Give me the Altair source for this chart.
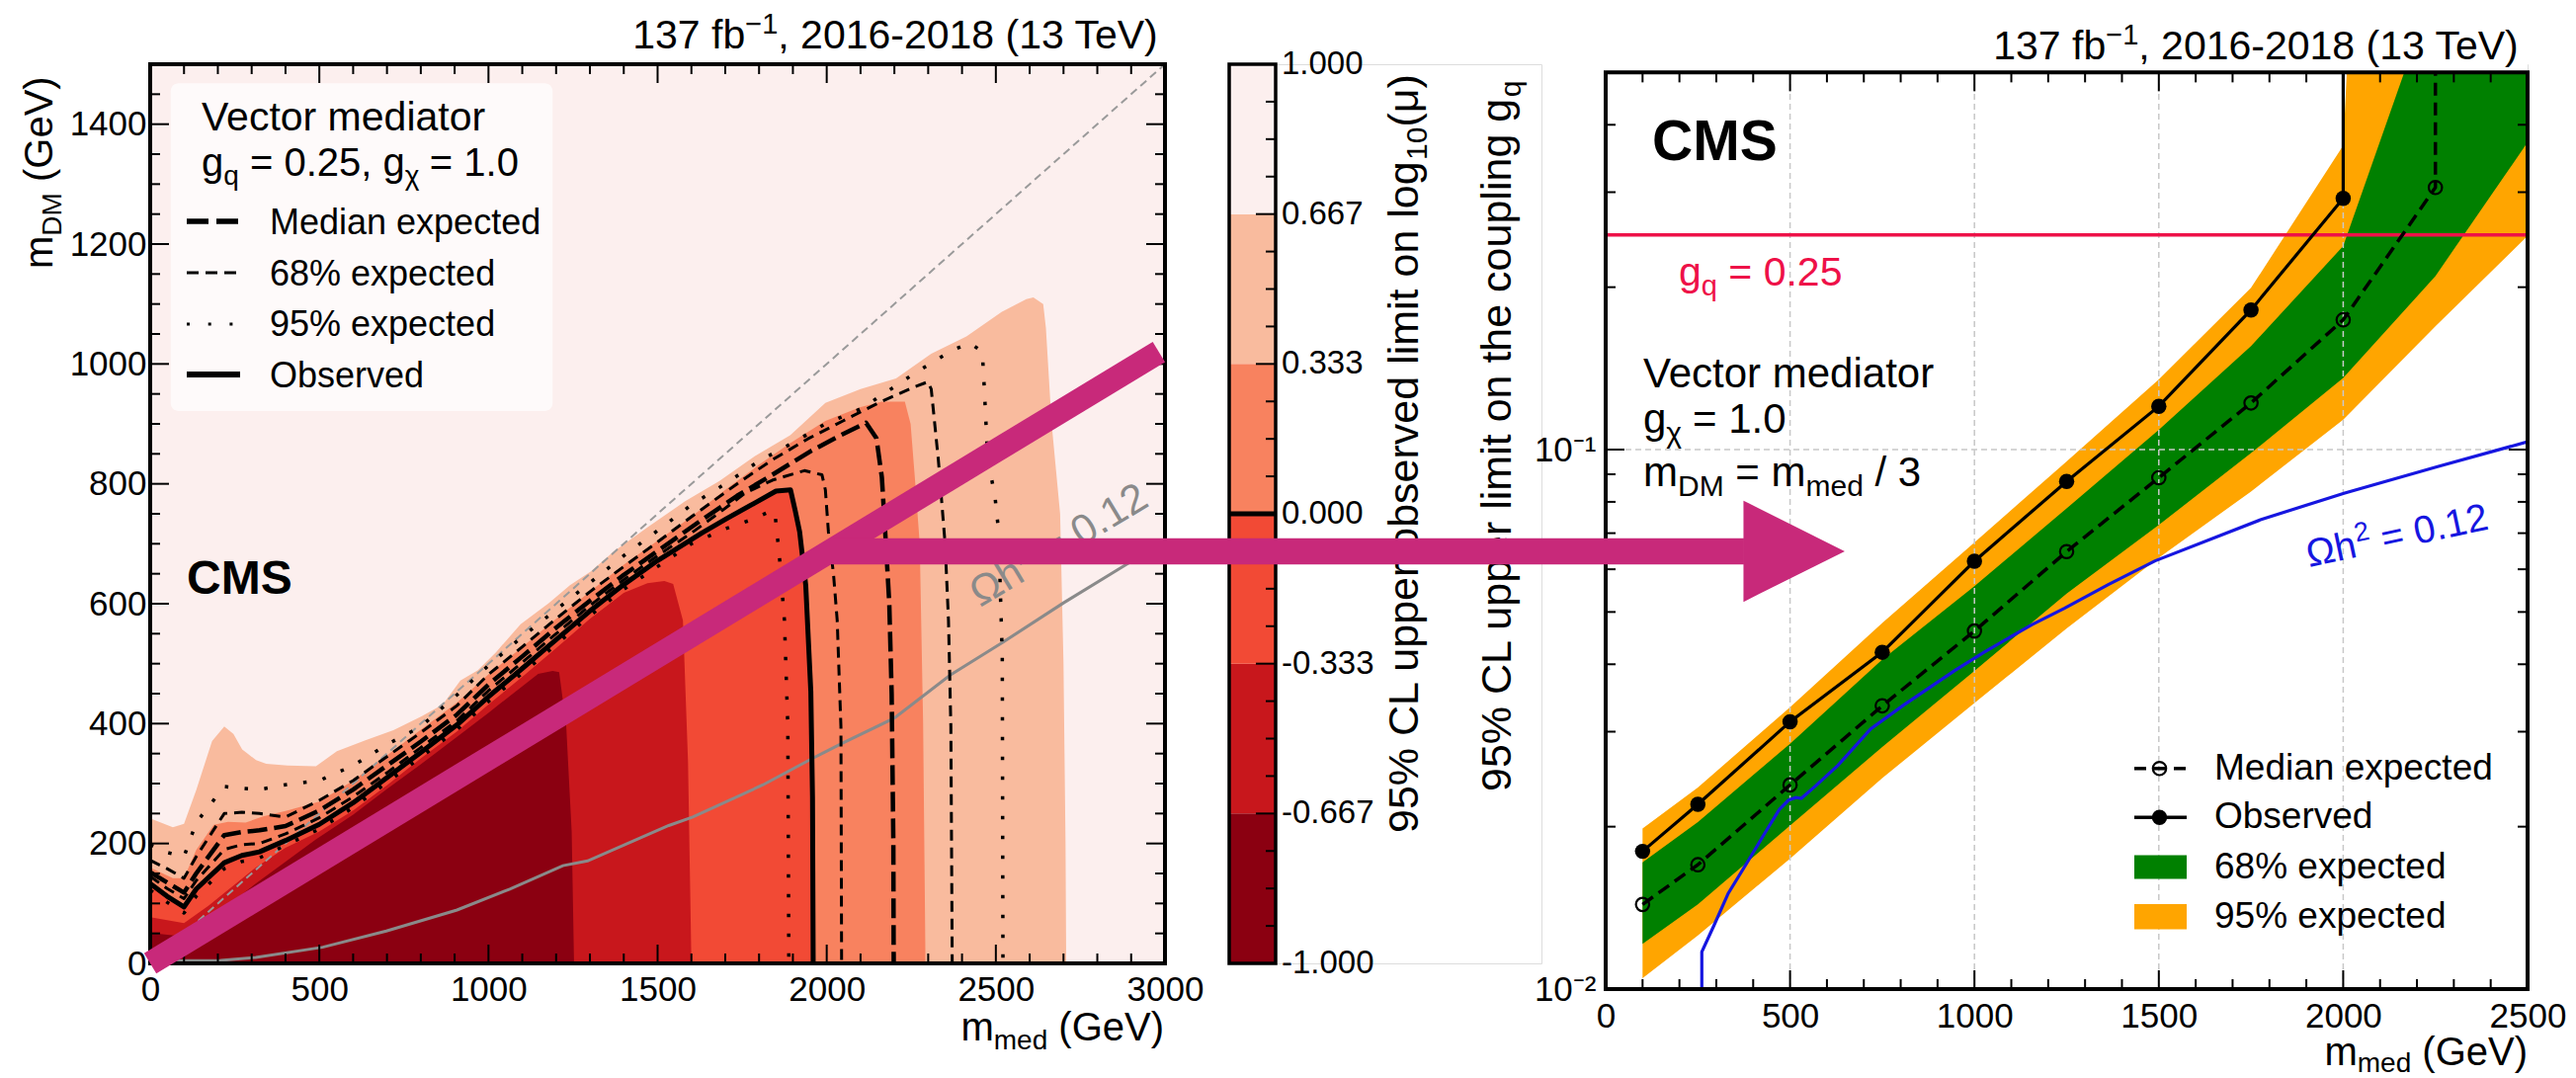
import math
import altair as alt
import pandas as pd

FONT = "Liberation Sans"
INK = "#000000"
MAGENTA = "#c8297a"
RELIC_GRAY = "#8a8a8a"
DIAG_GRAY = "#9a9a9a"
RED = "#ee1148"
BLUE = "#1616e0"
GREEN = "#008000"
ORANGE = "#ffa500"

# ----------------------------------------------------------------------
# Left panel: observed limit on log10(mu) in the (m_med, m_DM) plane, GeV
# ----------------------------------------------------------------------
# upper edge of each filled log10(mu) interval; every region is filled down to m_DM = 0
edge_m0667_mmed = [0, 50, 100, 172, 312, 490, 600, 698, 800, 907, 1000, 1063, 1147, 1190, 1209, 1230, 1246, 1253]
edge_m0667_mdm = [51, 48, 45, 72, 133, 207, 248, 290, 332, 378, 418, 446, 483, 488, 486, 395, 220, 0]

edge_m0333_mmed = [0, 50, 100, 172, 312, 400, 500, 600, 700, 800, 907, 1000, 1100, 1200, 1300, 1400, 1470,
                   1520, 1546, 1575, 1590, 1600]
edge_m0333_mdm = [77, 72, 67, 96, 160, 193, 220, 255, 297, 342, 387, 432, 478, 526, 575, 618, 634,
                  638, 633, 572, 336, 0]

edge_p0333_mmed = [0, 67, 100, 136, 188, 230, 282, 334, 406, 500, 600, 700, 800, 907, 1000, 1100, 1200, 1300,
                   1400, 1500, 1600, 1700, 1800, 1892, 1996, 2100, 2163, 2231, 2248, 2262, 2275, 2285, 2292]
edge_p0333_mdm = [160, 142, 142, 189, 231, 236, 235, 245, 255, 270, 305, 347, 390, 435, 482, 528, 575, 620,
                  665, 705, 745, 790, 832, 868, 905, 928, 937, 937, 900, 800, 700, 400, 0]

edge_p0667_mmed = [0, 67, 100, 136, 183, 219, 246, 272, 313, 343, 406, 490, 552, 636, 719, 802, 865, 917, 969,
                   1022, 1095, 1178, 1241, 1303, 1370, 1474, 1579, 1683, 1787, 1892, 1996, 2100, 2205, 2309,
                   2413, 2518, 2590, 2611, 2640, 2648, 2665, 2690, 2700, 2706, 2708]
edge_p0667_mdm = [242, 227, 233, 289, 371, 395, 383, 357, 339, 333, 330, 329, 354, 372, 389, 412, 432, 472, 489,
                  519, 566, 601, 631, 654, 687, 729, 770, 805, 846, 881, 935, 958, 976, 1017,
                  1046, 1087, 1108, 1111, 1100, 1060, 900, 750, 500, 200, 0]

# limit contours (mu = 1)
obs_mmed = [0, 50, 100, 136, 219, 271, 323, 400, 500, 600, 700, 800, 907, 1000, 1100, 1200, 1300, 1400, 1500,
            1631, 1704, 1787, 1850, 1893, 1907, 1920, 1938, 1953, 1958, 1960]
obs_mdm = [133, 112, 94, 124, 168, 180, 186, 205, 232, 268, 310, 352, 398, 445, 492, 540, 588, 632, 672,
           718, 742, 768, 788, 790, 755, 720, 631, 454, 277, 0]

med_mmed = [0, 50, 100, 136, 219, 271, 323, 400, 500, 600, 700, 800, 907, 1000, 1100, 1200, 1300, 1400, 1500,
            1631, 1735, 1839, 1954, 2038, 2116, 2147, 2163, 2175, 2185, 2192, 2197, 2198]
med_mdm = [152, 135, 118, 150, 214, 219, 222, 229, 255, 290, 330, 370, 415, 465, 512, 560, 605, 648, 688,
           740, 780, 815, 855, 880, 902, 876, 811, 700, 600, 450, 200, 0]

e68_inner_mmed = [0, 50, 100, 136, 219, 271, 323, 400, 500, 600, 700, 800, 907, 1000, 1100, 1200, 1300, 1400,
                  1500, 1600, 1683, 1760, 1839, 1934, 1986, 1996, 2005, 2020, 2031, 2042, 2044]
e68_inner_mdm = [145, 125, 108, 138, 190, 198, 200, 216, 243, 278, 318, 360, 405, 455, 502, 550, 597, 640,
                 680, 718, 752, 785, 806, 822, 815, 790, 720, 650, 572, 395, 0]

e68_outer_mmed = [0, 50, 100, 136, 219, 271, 323, 400, 500, 600, 700, 800, 907, 1000, 1100, 1200, 1300, 1400,
                  1500, 1600, 1735, 1839, 1944, 2048, 2153, 2260, 2299, 2309, 2330, 2350, 2360, 2367, 2371]
e68_outer_mdm = [172, 158, 142, 178, 250, 252, 250, 244, 272, 305, 345, 385, 430, 482, 528, 575, 620, 662,
                 703, 745, 800, 840, 875, 905, 935, 962, 970, 958, 840, 700, 572, 395, 0]

e95_inner_mmed = [0, 50, 100, 136, 219, 271, 323, 400, 500, 600, 700, 800, 907, 1000, 1100, 1200, 1300, 1400,
                  1500, 1600, 1700, 1787, 1839, 1848, 1860, 1875, 1885, 1888]
e95_inner_mdm = [122, 102, 84, 112, 158, 170, 176, 197, 224, 260, 302, 344, 390, 437, 484, 532, 580, 624,
                 662, 700, 725, 742, 756, 745, 680, 572, 395, 0]

e95_outer_mmed = [0, 50, 100, 136, 219, 271, 323, 400, 500, 600, 700, 800, 907, 1000, 1100, 1200, 1300, 1400,
                  1500, 1600, 1700, 1800, 1892, 1996, 2100, 2163, 2267, 2319, 2372, 2424, 2460, 2466, 2476,
                  2497, 2508, 2519, 2521]
e95_outer_mdm = [198, 185, 178, 235, 295, 292, 290, 298, 305, 330, 365, 395, 448, 497, 545, 590, 635, 680,
                 722, 765, 800, 838, 866, 900, 925, 948, 987, 1005, 1023, 1035, 1020, 958, 840,
                 781, 722, 513, 0]

# kinematic boundary m_DM = m_med / 2 and relic density curve
kin_mmed = [0, 3000]
kin_mdm = [0, 1500]
relic_l_mmed = [0, 208, 312, 510, 698, 907, 1063, 1220, 1293, 1428, 1533, 1604, 1812, 1958, 2042, 2199, 2365,
                2522, 2699, 2887, 3000]
relic_l_mdm = [4, 5, 10, 27, 54, 89, 124, 163, 171, 204, 230, 244, 298, 342, 366, 409, 481, 536, 601, 666, 705]

# highlighted scan line m_DM ~ m_med / 3
scan_mmed = [0, 2982]
scan_mdm = [0, 1020]

# ----------------------------------------------------------------------
# Colour bar levels
# ----------------------------------------------------------------------
level_edges = [-1.0, -2 / 3, -1 / 3, 0.0, 1 / 3, 2 / 3, 1.0]
level_labels = ["-1.000", "-0.667", "-0.333", "0.000", "0.333", "0.667", "1.000"]
level_colors = ["#8b0011", "#c8171c", "#f24a35", "#f8825f", "#f9bb9e", "#fcefee"]

# ----------------------------------------------------------------------
# Right panel: 95% CL upper limit on g_q along m_DM = m_med / 3
# ----------------------------------------------------------------------
mass_points = [100, 250, 500, 750, 1000, 1250, 1500, 1750, 2000, 2250, 2500]
obs_gq = [0.0180, 0.0220, 0.0313, 0.0421, 0.0621, 0.0873, 0.1203, 0.1815, 0.2923]
exp_gq = [0.01435, 0.0170, 0.0239, 0.0335, 0.0461, 0.0647, 0.0887, 0.1220, 0.1740, 0.306]
exp68_lo = [0.01213, 0.01435, 0.0201, 0.0281, 0.0389, 0.0541, 0.0725, 0.0985, 0.1358, 0.2097, 0.371]
exp68_hi = [0.01717, 0.0204, 0.0285, 0.0408, 0.0558, 0.0778, 0.1088, 0.1555, 0.2384, 0.73, 1000.0]
exp95_lo = [0.01047, 0.01257, 0.01745, 0.0246, 0.0339, 0.0466, 0.0630, 0.0836, 0.1136, 0.1693, 0.2488]
exp95_hi = [0.01985, 0.02365, 0.0333, 0.0477, 0.0673, 0.0951, 0.1349, 0.1994, 0.366, 1000.0, 1000.0]
OFF_SCALE = 1000.0  # limit not reached inside the scan range: the curve runs off the top

relic_r_mmed = [260.7, 260.7, 292.6, 332.3, 386.8, 431.4, 471.0, 496.0, 515.8, 530.5, 570.0, 629.7, 718.7,
                807.9, 946.6, 1026, 1155, 1244, 1363, 1490, 1775.5, 2002, 2256, 2500]
relic_r_gq = [0.0095, 0.01172, 0.01307, 0.01504, 0.0173, 0.01945, 0.02153, 0.0224, 0.02264, 0.02257, 0.02383,
              0.02598, 0.03035, 0.0336, 0.03894, 0.04212, 0.04734, 0.0508, 0.0562, 0.0622, 0.0741, 0.083,
              0.093, 0.1034]
gq_reference = 0.25

# arrow linking the scan line to the right panel (right-panel axis units)
arrow_bar_mmed = [-2098, 375]
arrow_head_mmed = 511
arrow_gq = 0.0648

# ----------------------------------------------------------------------
# Layout
# ----------------------------------------------------------------------
LW, LH = 1027, 910          # left plot area
CW = 316                    # colour-bar cell (bar + labels + title)
RW, RH = 933, 936           # right plot area (frame starts 9 px below the top)
GAP = 65
R_YMIN = 0.01
R_YTOP = 10 ** (-2 + RH / 546.0)
R_FRAME_TOP = RH * (1 - math.log10(0.5 / R_YMIN) / math.log10(R_YTOP / R_YMIN))

ADV = {" ": .278, "%": .889, "(": .333, ")": .333, ",": .278, "-": .333, ".": .278, "/": .278,
       "=": .584, "\u2212": .584, "C": .722, "D": .722, "G": .778, "L": .556, "M": .833, "O": .778,
       "S": .667, "T": .611, "V": .667, "b": .556, "c": .5, "f": .278, "i": .222, "l": .222, "m": .833,
       "r": .333, "s": .5, "t": .278, "v": .5, "x": .5, "\u03c7": .5, "\u03a9": .768, "\u03bc": .576}


def advance(text, size):
    return size * sum(ADV.get(ch, .556) for ch in text)


def compose(pieces, x, y, angle=0, color=INK, right=None):
    """Lay out (text, size, baseline shift) pieces one after another along a baseline.

    Leading blanks are turned into an offset, since rendered strings are trimmed."""
    if right is not None:
        x = right - sum(advance(t, s) for t, s, _ in pieces)
    th = math.radians(angle)
    ux, uy = math.cos(th), math.sin(th)
    vx, vy = -math.sin(th), math.cos(th)
    rows, run = [], 0.0
    for text, size, shift in pieces:
        lead = advance(text[:len(text) - len(text.lstrip(" "))], size)
        pos = run + lead
        rows.append(dict(t=text.strip(), x=x + pos * ux + shift * vx,
                         y=y + pos * uy + shift * vy, s=size, a=angle, c=color))
        run += advance(text, size)
    return rows


def text_layer(rows, **kw):
    return alt.Chart(pd.DataFrame(rows)).mark_text(
        font=FONT, align="left", baseline="alphabetic", **kw
    ).encode(
        x=alt.X("x:Q", scale=None, axis=None),
        y=alt.Y("y:Q", scale=None, axis=None),
        text="t:N",
        size=alt.Size("s:Q", scale=None),
        angle=alt.Angle("a:Q", scale=None),
        color=alt.Color("c:N", scale=None),
    )


ONE = pd.DataFrame({"k": [0]})


def px_rule(x1, x2, y1, y2, **kw):
    return alt.Chart(ONE).mark_rule(**kw).encode(
        x=alt.value(x1), x2=alt.value(x2), y=alt.value(y1), y2=alt.value(y2))


def title_pieces():
    return [("137 fb", 41, 0), ("\u22121", 29, -15), (", 2016-2018 (13 TeV)", 41, 0)]


def mmed_pieces(size, sub, shift=9):
    return [("m", size, 0), ("med", sub, shift), (" (GeV)", size, 0)]


def ticks(xenc, yenc, xmaj, xmin, ymaj, ymin, w, top, bottom, big=19, small=10):
    out = []
    for vals, L in ((xmaj, big), (xmin, small)):
        df = pd.DataFrame({"v": vals})
        out.append(alt.Chart(df).mark_rule(color=INK, strokeWidth=2).encode(
            x=xenc("v"), y=alt.value(bottom), y2=alt.value(bottom - L)))
        out.append(alt.Chart(df).mark_rule(color=INK, strokeWidth=2).encode(
            x=xenc("v"), y=alt.value(top), y2=alt.value(top + L)))
    for vals, L in ((ymaj, big), (ymin, small)):
        df = pd.DataFrame({"v": vals})
        out.append(alt.Chart(df).mark_rule(color=INK, strokeWidth=2).encode(
            y=yenc("v"), x=alt.value(0), x2=alt.value(L)))
        out.append(alt.Chart(df).mark_rule(color=INK, strokeWidth=2).encode(
            y=yenc("v"), x=alt.value(w - L), x2=alt.value(w)))
    return out


# ---------------------------- left panel ------------------------------
AX_LX = alt.Axis(values=list(range(0, 3001, 500)), format="d", title=None, ticks=False, domain=False,
                 grid=False, labelFont=FONT, labelFontSize=35, labelColor=INK, labelPadding=9,
                 labelFlush=False, labelOverlap=False)
AX_LY = alt.Axis(values=list(range(0, 1401, 200)), format="d", title=None, ticks=False, domain=False,
                 grid=False, labelFont=FONT, labelFontSize=35, labelColor=INK, labelPadding=4,
                 labelFlush=False, labelOverlap=False)
SC_LX = alt.Scale(domain=[0, 3000], nice=False, zero=False)
SC_LY = alt.Scale(domain=[0, 1500], nice=False, zero=False)


def LX(f):
    return alt.X(f"{f}:Q", scale=SC_LX, axis=AX_LX)


def LY(f):
    return alt.Y(f"{f}:Q", scale=SC_LY, axis=AX_LY)


left_layers = []
# invisible anchor fixing the page origin of the layout
left_layers.append(alt.Chart(ONE).mark_rect(opacity=0).encode(
    x=alt.value(-151), x2=alt.value(-141), y=alt.value(-64), y2=alt.value(-54)))

box = pd.DataFrame({"x0": [0], "x1": [3000], "y0": [0], "y1": [1500]})
left_layers.append(alt.Chart(box).mark_rect(color=level_colors[5]).encode(
    x=LX("x0"), x2="x1", y=LY("y0"), y2="y1"))

for xs, ys, col in ((edge_p0667_mmed, edge_p0667_mdm, level_colors[4]),
                    (edge_p0333_mmed, edge_p0333_mdm, level_colors[3]),
                    (obs_mmed, obs_mdm, level_colors[2]),
                    (edge_m0333_mmed, edge_m0333_mdm, level_colors[1]),
                    (edge_m0667_mmed, edge_m0667_mdm, level_colors[0])):
    df = pd.DataFrame({"m_med": xs, "m_dm": ys})
    left_layers.append(alt.Chart(df).mark_area(color=col, opacity=1).encode(x=LX("m_med"), y=LY("m_dm")))

kin = pd.DataFrame({"m_med": kin_mmed, "m_dm": kin_mdm})
left_layers.append(alt.Chart(kin).mark_line(color=DIAG_GRAY, strokeWidth=2, strokeDash=[8, 5]).encode(
    x=LX("m_med"), y=LY("m_dm")))
relic_l = pd.DataFrame({"m_med": relic_l_mmed, "m_dm": relic_l_mdm})
left_layers.append(alt.Chart(relic_l).mark_line(color=RELIC_GRAY, strokeWidth=3).encode(
    x=LX("m_med"), y=LY("m_dm")))


def contour_layer(curves, **style):
    rows = []
    for name, (xs, ys) in curves.items():
        for i, (a, b) in enumerate(zip(xs, ys)):
            rows.append({"m_med": a, "m_dm": b, "curve": name, "i": i})
    return alt.Chart(pd.DataFrame(rows)).mark_line(color=INK, strokeJoin="round", **style).encode(
        x=LX("m_med"), y=LY("m_dm"), detail="curve:N", order="i:Q")


left_layers.append(contour_layer({"lo": (e95_inner_mmed, e95_inner_mdm), "hi": (e95_outer_mmed, e95_outer_mdm)},
                                 strokeWidth=3.5, strokeDash=[3.5, 16.5]))
left_layers.append(contour_layer({"lo": (e68_inner_mmed, e68_inner_mdm), "hi": (e68_outer_mmed, e68_outer_mdm)},
                                 strokeWidth=3, strokeDash=[11, 7]))
left_layers.append(contour_layer({"med": (med_mmed, med_mdm)}, strokeWidth=4.5, strokeDash=[20, 7]))
left_layers.append(contour_layer({"obs": (obs_mmed, obs_mdm)}, strokeWidth=5))

# legend box
left_layers.append(alt.Chart(ONE).mark_rect(color="white", opacity=0.7, cornerRadius=8).encode(
    x=alt.value(20.7), x2=alt.value(407.3), y=alt.value(19.3), y2=alt.value(351)))
left_layers.append(px_rule(37, 91, 159, 159, color=INK, strokeWidth=5.5, strokeDash=[22, 8]))
left_layers.append(px_rule(37, 91, 211, 211, color=INK, strokeWidth=3, strokeDash=[12, 7]))
left_layers.append(px_rule(37, 91, 263, 263, color=INK, strokeWidth=3, strokeDash=[3, 18.7]))
left_layers.append(px_rule(37, 91, 314, 314, color=INK, strokeWidth=6))

left_text = []
left_text += compose(title_pieces(), 0, -16, right=1025)
left_text += compose([("Vector mediator", 41, 0)], 52, 67)
left_text += compose([("g", 40, 0), ("q", 28, 9), (" = 0.25, g", 40, 0), ("\u03c7", 28, 9), (" = 1.0", 40, 0)],
                     52, 112.7)
for lab, yb in (("Median expected", 171.7), ("68% expected", 224.3), ("95% expected", 275.3),
                ("Observed", 326.7)):
    left_text += compose([(lab, 36, 0)], 121, yb)
left_text += compose(mmed_pieces(40, 28), 0, 988, right=1026)
left_text += compose([("m", 40, 0), ("DM", 28, 9), (" (GeV)", 40, 0)], -99, 207, angle=270)
left_text += compose([("\u03a9h", 42, 0), ("2", 29, -16), (" = 0.12", 42, 0)], 840, 550, angle=329,
                     color=RELIC_GRAY)
left_layers.append(text_layer(left_text))
left_layers.append(text_layer(compose([("CMS", 48, 0)], 37, 536.4), fontWeight="bold"))

left_layers.append(alt.Chart(box).mark_rect(fillOpacity=0, stroke=INK, strokeWidth=4).encode(
    x=LX("x0"), x2="x1", y=LY("y0"), y2="y1"))
left_layers += ticks(LX, LY, list(range(0, 3001, 500)), [v for v in range(100, 3000, 100) if v % 500],
                     list(range(0, 1501, 200)), [v for v in range(50, 1500, 50) if v % 200], LW, 0, LH)

scan = pd.DataFrame({"m_med": scan_mmed, "m_dm": scan_mdm})
left_layers.append(alt.Chart(scan).mark_line(color=MAGENTA, strokeWidth=24, strokeCap="butt").encode(
    x=LX("m_med"), y=LY("m_dm")))

left = alt.layer(*left_layers).properties(width=LW, height=LH)

# ---------------------------- colour bar ------------------------------
SC_C = alt.Scale(domain=[-1, 1], nice=False, zero=False)


def CY(f):
    return alt.Y(f"{f}:Q", scale=SC_C, axis=None)


cb = pd.DataFrame({"lo": level_edges[:-1], "hi": level_edges[1:], "c": level_colors})
cb_layers = [
    alt.Chart(cb).mark_rect().encode(x=alt.value(0), x2=alt.value(47), y=CY("lo"), y2="hi",
                                      color=alt.Color("c:N", scale=None)),
    alt.Chart(pd.DataFrame({"v": [0.0]})).mark_rule(color=INK, strokeWidth=5).encode(
        y=CY("v"), x=alt.value(0), x2=alt.value(47)),
    alt.Chart(pd.DataFrame({"lo": [-1], "hi": [1]})).mark_rect(fillOpacity=0, stroke=INK, strokeWidth=3.5).encode(
        x=alt.value(0), x2=alt.value(47), y=CY("lo"), y2="hi"),
    alt.Chart(pd.DataFrame({"v": level_edges})).mark_rule(color=INK, strokeWidth=2).encode(
        y=CY("v"), x=alt.value(27), x2=alt.value(47)),
    alt.Chart(pd.DataFrame({"v": [k / 12 for k in range(-11, 12) if k % 4]})).mark_rule(
        color=INK, strokeWidth=2).encode(y=CY("v"), x=alt.value(37), x2=alt.value(47)),
    alt.Chart(pd.DataFrame({"v": level_edges, "lab": level_labels})).mark_text(
        font=FONT, fontSize=33, align="left", baseline="middle", color=INK).encode(
        x=alt.value(53), y=CY("v"), text="lab:N"),
    text_layer(compose([("95% CL upper observed limit on log", 43, 0), ("10", 30, 9), ("(\u03bc)", 43, 0)],
                       191, 778, angle=270)),
]
cbar = alt.layer(*cb_layers).properties(width=CW, height=LH)

# ---------------------------- right panel -----------------------------
SC_RX = alt.Scale(domain=[0, 2500], nice=False, zero=False)
SC_RY = alt.Scale(type="log", domain=[R_YMIN, R_YTOP], nice=False)
AX_RX = alt.Axis(values=list(range(0, 2501, 500)), format="d", title=None, ticks=False, domain=False,
                 grid=False, labelFont=FONT, labelFontSize=35, labelColor=INK, labelPadding=10,
                 labelFlush=False, labelOverlap=False)
AX_RY = alt.Axis(values=[0.01, 0.1], title=None, ticks=False, domain=False, grid=False,
                 labelFont=FONT, labelFontSize=35, labelColor=INK, labelPadding=10, labelFlush=False,
                 labelOverlap=False,
                 labelExpr="datum.value < 0.05 ? '10\u207b\u00b2' : '10\u207b\u00b9'")


def RX(f):
    return alt.X(f"{f}:Q", scale=SC_RX, axis=AX_RX)


def RY(f):
    return alt.Y(f"{f}:Q", scale=SC_RY, axis=AX_RY)


bands = pd.DataFrame({"m": mass_points, "lo68": exp68_lo, "hi68": exp68_hi, "lo95": exp95_lo, "hi95": exp95_hi})
right_layers = [
    alt.Chart(bands).mark_area(color=ORANGE, opacity=1, clip=True).encode(x=RX("m"), y=RY("lo95"), y2="hi95"),
    alt.Chart(bands).mark_area(color=GREEN, opacity=1, clip=True).encode(x=RX("m"), y=RY("lo68"), y2="hi68"),
]
grid_v = pd.DataFrame({"m": [500, 1000, 1500, 2000], "lo": 0.01, "hi": 0.5})
right_layers.append(alt.Chart(grid_v).mark_rule(color="#c8c8c8", strokeWidth=1.5, strokeDash=[6, 4]).encode(
    x=RX("m"), y=RY("lo"), y2="hi"))
grid_h = pd.DataFrame({"m0": [0], "m1": [2500], "g": [0.1]})
right_layers.append(alt.Chart(grid_h).mark_rule(color="#c8c8c8", strokeWidth=1.5, strokeDash=[6, 4]).encode(
    x=RX("m0"), x2="m1", y=RY("g")))
ref_line = pd.DataFrame({"m0": [0], "m1": [2500], "g": [gq_reference]})
right_layers.append(alt.Chart(ref_line).mark_rule(color=RED, strokeWidth=3.4).encode(
    x=RX("m0"), x2="m1", y=RY("g")))
relic_r = pd.DataFrame({"m": relic_r_mmed, "g": relic_r_gq, "i": range(len(relic_r_gq))})
right_layers.append(alt.Chart(relic_r).mark_line(color=BLUE, strokeWidth=3.2, clip=True).encode(
    x=RX("m"), y=RY("g"), order="i:Q"))

exp_line = pd.DataFrame({"m": mass_points[:len(exp_gq)] + [mass_points[len(exp_gq) - 1]],
                         "g": exp_gq + [OFF_SCALE], "i": range(len(exp_gq) + 1)})
obs_line = pd.DataFrame({"m": mass_points[:len(obs_gq)] + [mass_points[len(obs_gq) - 1]],
                         "g": obs_gq + [OFF_SCALE], "i": range(len(obs_gq) + 1)})
right_layers.append(alt.Chart(exp_line).mark_line(color=INK, strokeWidth=3.5, strokeDash=[13, 7], clip=True).encode(
    x=RX("m"), y=RY("g"), order="i:Q"))
right_layers.append(alt.Chart(pd.DataFrame({"m": mass_points[:len(exp_gq)], "g": exp_gq})).mark_point(
    shape="circle", filled=False, size=180, color=INK, strokeWidth=2.2, opacity=1).encode(x=RX("m"), y=RY("g")))
right_layers.append(alt.Chart(obs_line).mark_line(color=INK, strokeWidth=3.2, clip=True).encode(
    x=RX("m"), y=RY("g"), order="i:Q"))
right_layers.append(alt.Chart(pd.DataFrame({"m": mass_points[:len(obs_gq)], "g": obs_gq})).mark_point(
    shape="circle", filled=True, size=240, color=INK, opacity=1).encode(x=RX("m"), y=RY("g")))

# white strip above the frame hides anything running off the top
mask = pd.DataFrame({"m0": [0], "m1": [2500], "g0": [0.5], "g1": [R_YTOP]})
right_layers.append(alt.Chart(mask).mark_rect(color="white", opacity=1).encode(
    x=RX("m0"), x2="m1", y=RY("g0"), y2="g1"))
rbox = pd.DataFrame({"m0": [0], "m1": [2500], "g0": [0.01], "g1": [0.5]})
right_layers.append(alt.Chart(rbox).mark_rect(fillOpacity=0, stroke=INK, strokeWidth=4).encode(
    x=RX("m0"), x2="m1", y=RY("g0"), y2="g1"))
right_layers += ticks(RX, RY, list(range(0, 2501, 500)), [v for v in range(100, 2500, 100) if v % 500],
                      [0.01, 0.1], [k / 100 for k in range(2, 10)] + [0.2, 0.3, 0.4],
                      RW, R_FRAME_TOP, RH)

# legend
right_layers.append(px_rule(535, 588, 712.8, 712.8, color=INK, strokeWidth=3.5, strokeDash=[12, 8]))
right_layers.append(px_rule(535, 588, 762.3, 762.3, color=INK, strokeWidth=3.5))
right_layers.append(alt.Chart(ONE).mark_point(shape="circle", filled=False, size=180, color=INK,
                                              strokeWidth=2.2, opacity=1).encode(
    x=alt.value(560.5), y=alt.value(712.8)))
right_layers.append(alt.Chart(ONE).mark_point(shape="circle", filled=True, size=240, color=INK,
                                              opacity=1).encode(x=alt.value(560.5), y=alt.value(762.3)))
right_layers.append(alt.Chart(ONE).mark_rect(color=GREEN).encode(
    x=alt.value(535), x2=alt.value(588), y=alt.value(800.5), y2=alt.value(824.4)))
right_layers.append(alt.Chart(ONE).mark_rect(color=ORANGE).encode(
    x=alt.value(535), x2=alt.value(588), y=alt.value(850), y2=alt.value(875.5)))

right_text = []
right_text += compose(title_pieces(), 0, -5.3, right=929)
right_text += compose([("Vector mediator", 42, 0)], 38, 327)
right_text += compose([("g", 42, 0), ("\u03c7", 30, 10), (" = 1.0", 42, 0)], 38, 373)
right_text += compose([("m", 42, 0), ("DM", 30, 10), (" = m", 42, 0), ("med", 30, 10), (" / 3", 42, 0)], 38, 427)
right_text += compose([("g", 41, 0), ("q", 29, 10), (" = 0.25", 41, 0)], 74, 223.5, color=RED)
right_text += compose([("\u03a9h", 39, 0), ("2", 27, -15), (" = 0.12", 39, 0)], 712, 509, angle=348, color=BLUE)
for lab, yb in (("Median expected", 724), ("Observed", 773.4), ("68% expected", 824.4), ("95% expected", 874)):
    right_text += compose([(lab, 37, 0)], 616, yb)
right_text += compose(mmed_pieces(40, 28, 7), 0, 1013, right=933)
right_text += compose([("95% CL upper limit on the coupling g", 43, 0), ("q", 30, 10)], -96, 736, angle=270)
right_layers.append(text_layer(right_text))
right_layers.append(text_layer(compose([("CMS", 57, 0)], 47, 97), fontWeight="bold"))

# arrow from the scan line into the right panel, drawn last so it sits on top
bar = pd.DataFrame({"m0": [arrow_bar_mmed[0]], "m1": [arrow_bar_mmed[1]], "g": [arrow_gq]})
right_layers.append(alt.Chart(bar).mark_rule(color=MAGENTA, strokeWidth=26.5, strokeCap="butt").encode(
    x=RX("m0"), x2="m1", y=RY("g")))
head = pd.DataFrame({"m": [arrow_head_mmed], "g": [arrow_gq]})
right_layers.append(alt.Chart(head).mark_point(shape="M-1,-1L1,0L-1,1Z", filled=True, size=10506,
                                               color=MAGENTA, opacity=1, strokeWidth=0).encode(
    x=RX("m"), y=RY("g")))

right = alt.layer(*right_layers).properties(width=RW, height=RH)

chart = alt.hconcat(left, cbar, right, spacing=GAP, bounds="flush", padding=0, background="white") \
    .configure_view(stroke="transparent") \
    .configure(font=FONT)

chart.save("out.html", embed_options={"renderer": "svg", "actions": False})
